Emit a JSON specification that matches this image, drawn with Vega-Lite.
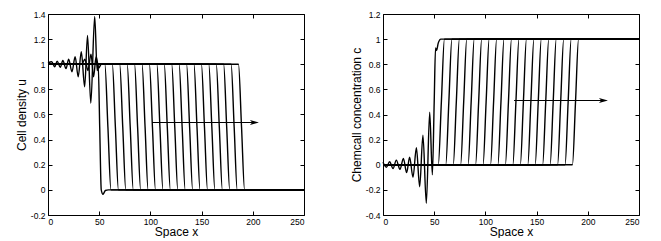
{
  "$schema": "https://vega.github.io/schema/vega-lite/v6.json",
  "padding": {"left": 14, "top": 9, "right": 5, "bottom": 0},
  "background": "white",
  "config": {
    "view": {"stroke": "#000", "strokeWidth": 1},
    "axis": {"grid": false, "domain": false, "tickColor": "#000", "tickSize": -4, "tickWidth": 1,
      "labelColor": "#000", "labelFont": "Liberation Sans", "labelFontSize": 8.5, "labelPadding": 7,
      "titleFont": "Liberation Sans", "titleFontSize": 12, "titleFontWeight": "normal", "titleColor": "#000", "titlePadding": 2},
    "axisX": {"labelPadding": 6, "titlePadding": 1}
  },
  "datasets": {
    "u": [
      {"k":1,"x":0,"v":1.01},{"k":1,"x":3.6,"v":1.02},{"k":1,"x":6.5,"v":0.98},{"k":1,"x":9,"v":1.025},{"k":1,"x":12,"v":0.975},{"k":1,"x":14.5,"v":1.03},{"k":1,"x":17.6,"v":0.965},{"k":1,"x":20.2,"v":1.04},{"k":1,"x":23.4,"v":0.94},{"k":1,"x":26.5,"v":1.06},{"k":1,"x":29.5,"v":0.9},{"k":1,"x":32.5,"v":1.1},{"k":1,"x":35.8,"v":0.82},{"k":1,"x":38.6,"v":1.23},{"k":1,"x":41.8,"v":0.69},{"k":1,"x":45.6,"v":1.38},{"k":1,"x":48,"v":0.95},{"k":1,"x":49,"v":1.0},{"k":1,"x":50.5,"v":0.5},{"k":1,"x":52,"v":0.0},{"k":1,"x":53.7,"v":-0.035},{"k":1,"x":56,"v":-0.005},{"k":1,"x":59,"v":0},{"k":1,"x":250,"v":0},
      {"k":2,"x":0,"v":1},{"k":2,"x":33,"v":1},{"k":2,"x":36,"v":1.04},{"k":2,"x":39,"v":0.95},{"k":2,"x":42,"v":1.08},{"k":2,"x":44.5,"v":0.9},{"k":2,"x":47,"v":1.06},{"k":2,"x":49.5,"v":0.97},{"k":2,"x":52,"v":1.0},{"k":2,"x":55.5,"v":1},{"k":2,"x":58.5,"v":0.5},{"k":2,"x":61.5,"v":0},{"k":2,"x":250,"v":0},
      {"k":3,"x":0,"v":1},{"k":3,"x":62.8,"v":1},{"k":3,"x":65.8,"v":0.5},{"k":3,"x":68.8,"v":0},{"k":3,"x":250,"v":0},
      {"k":4,"x":0,"v":1},{"k":4,"x":70,"v":1},{"k":4,"x":73,"v":0.5},{"k":4,"x":76,"v":0},{"k":4,"x":250,"v":0},
      {"k":5,"x":0,"v":1},{"k":5,"x":77.3,"v":1},{"k":5,"x":80.3,"v":0.5},{"k":5,"x":83.3,"v":0},{"k":5,"x":250,"v":0},
      {"k":6,"x":0,"v":1},{"k":6,"x":84.5,"v":1},{"k":6,"x":87.5,"v":0.5},{"k":6,"x":90.5,"v":0},{"k":6,"x":250,"v":0},
      {"k":7,"x":0,"v":1},{"k":7,"x":91.8,"v":1},{"k":7,"x":94.8,"v":0.5},{"k":7,"x":97.8,"v":0},{"k":7,"x":250,"v":0},
      {"k":8,"x":0,"v":1},{"k":8,"x":99,"v":1},{"k":8,"x":102,"v":0.5},{"k":8,"x":105,"v":0},{"k":8,"x":250,"v":0},
      {"k":9,"x":0,"v":1},{"k":9,"x":106.3,"v":1},{"k":9,"x":109.3,"v":0.5},{"k":9,"x":112.3,"v":0},{"k":9,"x":250,"v":0},
      {"k":10,"x":0,"v":1},{"k":10,"x":113.5,"v":1},{"k":10,"x":116.5,"v":0.5},{"k":10,"x":119.5,"v":0},{"k":10,"x":250,"v":0},
      {"k":11,"x":0,"v":1},{"k":11,"x":120.8,"v":1},{"k":11,"x":123.8,"v":0.5},{"k":11,"x":126.8,"v":0},{"k":11,"x":250,"v":0},
      {"k":12,"x":0,"v":1},{"k":12,"x":128,"v":1},{"k":12,"x":131,"v":0.5},{"k":12,"x":134,"v":0},{"k":12,"x":250,"v":0},
      {"k":13,"x":0,"v":1},{"k":13,"x":135.3,"v":1},{"k":13,"x":138.3,"v":0.5},{"k":13,"x":141.3,"v":0},{"k":13,"x":250,"v":0},
      {"k":14,"x":0,"v":1},{"k":14,"x":142.5,"v":1},{"k":14,"x":145.5,"v":0.5},{"k":14,"x":148.5,"v":0},{"k":14,"x":250,"v":0},
      {"k":15,"x":0,"v":1},{"k":15,"x":149.8,"v":1},{"k":15,"x":152.8,"v":0.5},{"k":15,"x":155.8,"v":0},{"k":15,"x":250,"v":0},
      {"k":16,"x":0,"v":1},{"k":16,"x":157,"v":1},{"k":16,"x":160,"v":0.5},{"k":16,"x":163,"v":0},{"k":16,"x":250,"v":0},
      {"k":17,"x":0,"v":1},{"k":17,"x":164.3,"v":1},{"k":17,"x":167.3,"v":0.5},{"k":17,"x":170.3,"v":0},{"k":17,"x":250,"v":0},
      {"k":18,"x":0,"v":1},{"k":18,"x":171.5,"v":1},{"k":18,"x":174.5,"v":0.5},{"k":18,"x":177.5,"v":0},{"k":18,"x":250,"v":0},
      {"k":19,"x":0,"v":1},{"k":19,"x":178.8,"v":1},{"k":19,"x":181.8,"v":0.5},{"k":19,"x":184.8,"v":0},{"k":19,"x":250,"v":0},
      {"k":20,"x":0,"v":1},{"k":20,"x":186,"v":1},{"k":20,"x":189,"v":0.5},{"k":20,"x":192,"v":0},{"k":20,"x":250,"v":0}
    ],
    "c": [
      {"k":1,"x":0,"v":0.02},{"k":1,"x":3.3,"v":-0.02},{"k":1,"x":6.5,"v":0.024},{"k":1,"x":9.8,"v":-0.03},{"k":1,"x":13,"v":0.037},{"k":1,"x":16.6,"v":-0.037},{"k":1,"x":19.9,"v":0.05},{"k":1,"x":23.1,"v":-0.063},{"k":1,"x":26,"v":0.06},{"k":1,"x":29.3,"v":-0.1},{"k":1,"x":32.6,"v":0.135},{"k":1,"x":35.8,"v":-0.175},{"k":1,"x":39,"v":0.235},{"k":1,"x":42.3,"v":-0.307},{"k":1,"x":45.6,"v":0.418},{"k":1,"x":48.2,"v":-0.08},{"k":1,"x":50,"v":0.5},{"k":1,"x":51.3,"v":0.93},{"k":1,"x":52.3,"v":0.91},{"k":1,"x":54,"v":0.97},{"k":1,"x":56.5,"v":1.0},{"k":1,"x":250,"v":1},
      {"k":2,"x":0,"v":0},{"k":2,"x":54,"v":0},{"k":2,"x":57,"v":0.5},{"k":2,"x":60,"v":1},{"k":2,"x":250,"v":1},
      {"k":3,"x":0,"v":0},{"k":3,"x":61.3,"v":0},{"k":3,"x":64.3,"v":0.5},{"k":3,"x":67.3,"v":1},{"k":3,"x":250,"v":1},
      {"k":4,"x":0,"v":0},{"k":4,"x":68.6,"v":0},{"k":4,"x":71.6,"v":0.5},{"k":4,"x":74.6,"v":1},{"k":4,"x":250,"v":1},
      {"k":5,"x":0,"v":0},{"k":5,"x":75.8,"v":0},{"k":5,"x":78.8,"v":0.5},{"k":5,"x":81.8,"v":1},{"k":5,"x":250,"v":1},
      {"k":6,"x":0,"v":0},{"k":6,"x":83.1,"v":0},{"k":6,"x":86.1,"v":0.5},{"k":6,"x":89.1,"v":1},{"k":6,"x":250,"v":1},
      {"k":7,"x":0,"v":0},{"k":7,"x":90.4,"v":0},{"k":7,"x":93.4,"v":0.5},{"k":7,"x":96.4,"v":1},{"k":7,"x":250,"v":1},
      {"k":8,"x":0,"v":0},{"k":8,"x":97.7,"v":0},{"k":8,"x":100.7,"v":0.5},{"k":8,"x":103.7,"v":1},{"k":8,"x":250,"v":1},
      {"k":9,"x":0,"v":0},{"k":9,"x":105,"v":0},{"k":9,"x":108,"v":0.5},{"k":9,"x":111,"v":1},{"k":9,"x":250,"v":1},
      {"k":10,"x":0,"v":0},{"k":10,"x":112.2,"v":0},{"k":10,"x":115.2,"v":0.5},{"k":10,"x":118.2,"v":1},{"k":10,"x":250,"v":1},
      {"k":11,"x":0,"v":0},{"k":11,"x":119.5,"v":0},{"k":11,"x":122.5,"v":0.5},{"k":11,"x":125.5,"v":1},{"k":11,"x":250,"v":1},
      {"k":12,"x":0,"v":0},{"k":12,"x":126.8,"v":0},{"k":12,"x":129.8,"v":0.5},{"k":12,"x":132.8,"v":1},{"k":12,"x":250,"v":1},
      {"k":13,"x":0,"v":0},{"k":13,"x":134.1,"v":0},{"k":13,"x":137.1,"v":0.5},{"k":13,"x":140.1,"v":1},{"k":13,"x":250,"v":1},
      {"k":14,"x":0,"v":0},{"k":14,"x":141.4,"v":0},{"k":14,"x":144.4,"v":0.5},{"k":14,"x":147.4,"v":1},{"k":14,"x":250,"v":1},
      {"k":15,"x":0,"v":0},{"k":15,"x":148.6,"v":0},{"k":15,"x":151.6,"v":0.5},{"k":15,"x":154.6,"v":1},{"k":15,"x":250,"v":1},
      {"k":16,"x":0,"v":0},{"k":16,"x":155.9,"v":0},{"k":16,"x":158.9,"v":0.5},{"k":16,"x":161.9,"v":1},{"k":16,"x":250,"v":1},
      {"k":17,"x":0,"v":0},{"k":17,"x":163.2,"v":0},{"k":17,"x":166.2,"v":0.5},{"k":17,"x":169.2,"v":1},{"k":17,"x":250,"v":1},
      {"k":18,"x":0,"v":0},{"k":18,"x":170.5,"v":0},{"k":18,"x":173.5,"v":0.5},{"k":18,"x":176.5,"v":1},{"k":18,"x":250,"v":1},
      {"k":19,"x":0,"v":0},{"k":19,"x":177.8,"v":0},{"k":19,"x":180.8,"v":0.5},{"k":19,"x":183.8,"v":1},{"k":19,"x":250,"v":1},
      {"k":20,"x":0,"v":0},{"k":20,"x":185,"v":0},{"k":20,"x":188,"v":0.5},{"k":20,"x":191,"v":1},{"k":20,"x":250,"v":1}
    ],
    "arrow_u": [{"x":101.6,"x2":202,"v":0.536,"xh":201.6}],
    "arrow_c": [{"x":128,"x2":215.5,"v":0.511,"xh":215.3}]
  },
  "hconcat": [
    {
      "width": 256, "height": 201,
      "layer": [
        {
          "data": {"name": "u"},
          "mark": {"type": "line", "interpolate": "monotone", "color": "#000", "strokeWidth": 1.4},
          "encoding": {
            "x": {"field": "x", "type": "quantitative", "scale": {"domain": [0, 250], "nice": false},
              "axis": {"orient": "bottom", "values": [0, 50, 100, 150, 200, 250], "title": "Space x"}},
            "y": {"field": "v", "type": "quantitative", "scale": {"domain": [-0.2, 1.4], "nice": false, "zero": false},
              "axis": {"orient": "left", "values": [-0.2, 0, 0.2, 0.4, 0.6, 0.8, 1, 1.2, 1.4], "labelExpr": "'' + datum.value", "title": "Cell density u"}},
            "detail": {"field": "k", "type": "nominal"}
          }
        },
        {
          "data": {"name": "arrow_u"},
          "mark": {"type": "rule", "color": "#000", "strokeWidth": 1.1},
          "encoding": {
            "x": {"field": "x", "type": "quantitative", "axis": {"orient": "top", "labels": false, "title": null, "values": [0, 50, 100, 150, 200, 250]}},
            "x2": {"field": "x2"},
            "y": {"field": "v", "type": "quantitative", "axis": {"orient": "right", "labels": false, "title": null, "values": [-0.2, 0, 0.2, 0.4, 0.6, 0.8, 1, 1.2, 1.4]}}
          }
        },
        {
          "data": {"name": "arrow_u"},
          "mark": {"type": "point", "shape": "M1,0L-1,-0.55L-0.5,0L-1,0.55Z", "filled": true, "color": "#000", "opacity": 1, "size": 81},
          "encoding": {
            "x": {"field": "xh", "type": "quantitative", "axis": null},
            "y": {"field": "v", "type": "quantitative", "axis": null}
          }
        }
      ],
      "resolve": {"axis": {"x": "independent", "y": "independent"}}
    },
    {
      "width": 256, "height": 201,
      "layer": [
        {
          "data": {"name": "c"},
          "mark": {"type": "line", "interpolate": "monotone", "color": "#000", "strokeWidth": 1.4},
          "encoding": {
            "x": {"field": "x", "type": "quantitative", "scale": {"domain": [0, 250], "nice": false},
              "axis": {"orient": "bottom", "values": [0, 50, 100, 150, 200, 250], "title": "Space x"}},
            "y": {"field": "v", "type": "quantitative", "scale": {"domain": [-0.4, 1.2], "nice": false, "zero": false},
              "axis": {"orient": "left", "values": [-0.4, -0.2, 0, 0.2, 0.4, 0.6, 0.8, 1, 1.2], "labelExpr": "'' + datum.value", "title": "Chemcall concentration c"}},
            "detail": {"field": "k", "type": "nominal"}
          }
        },
        {
          "data": {"name": "arrow_c"},
          "mark": {"type": "rule", "color": "#000", "strokeWidth": 1.1},
          "encoding": {
            "x": {"field": "x", "type": "quantitative", "axis": {"orient": "top", "labels": false, "title": null, "values": [0, 50, 100, 150, 200, 250]}},
            "x2": {"field": "x2"},
            "y": {"field": "v", "type": "quantitative", "axis": {"orient": "right", "labels": false, "title": null, "values": [-0.4, -0.2, 0, 0.2, 0.4, 0.6, 0.8, 1, 1.2]}}
          }
        },
        {
          "data": {"name": "arrow_c"},
          "mark": {"type": "point", "shape": "M1,0L-1,-0.55L-0.5,0L-1,0.55Z", "filled": true, "color": "#000", "opacity": 1, "size": 81},
          "encoding": {
            "x": {"field": "xh", "type": "quantitative", "axis": null},
            "y": {"field": "v", "type": "quantitative", "axis": null}
          }
        }
      ],
      "resolve": {"axis": {"x": "independent", "y": "independent"}}
    }
  ],
  "spacing": 79,
  "bounds": "flush"
}
